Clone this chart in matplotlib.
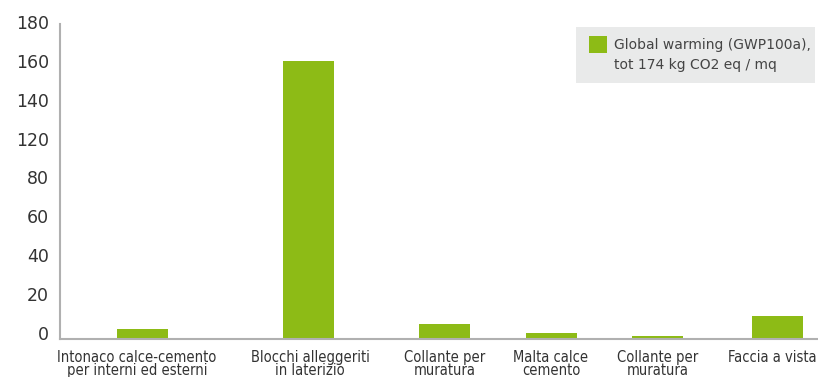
import matplotlib
matplotlib.use("Agg")
import matplotlib.pyplot as plt
import matplotlib.transforms as mtransforms
from matplotlib.patches import Rectangle

# ---- data ----
categories = [
    "Intonaco calce-cemento\nper interni ed esterni",
    "Blocchi alleggeriti\nin laterizio",
    "Collante per\nmuratura",
    "Malta calce\ncemento",
    "Collante per\nmuratura",
    "Faccia a vista",
]
values = [5.5, 160.5, 8.4, 3.2, 1.5, 13.0]
ytick_labels = ["0", "20", "40", "60", "80", "120", "140", "160", "180"]
legend_label = "Global warming (GWP100a),\ntot 174 kg CO2 eq / mq"

# ---- layout (not data) ----
xpos = [82.5, 248.3, 384.3, 491.3, 597.5, 717.5]
label_pos = [77, 250, 385, 491, 598, 712]
bar_width = 51
ytick_pos = [i * 22.5 for i in range(len(ytick_labels))]

W, H = 818, 377
fig = plt.figure(figsize=(W / 100, H / 100), dpi=100)
ax = fig.add_axes([60 / W, 1 - 338.5 / H, 758 / W, (338.5 - 24) / H])

green = "#8dbb16"
ax.bar(xpos, values, width=bar_width, color=green, zorder=2)

ax.set_xlim(0, 758)
ax.set_ylim(0, 182)

for s in ["top", "right"]:
    ax.spines[s].set_visible(False)
for s in ["left", "bottom"]:
    ax.spines[s].set_color("#b0b0b0")
    ax.spines[s].set_linewidth(1.5)

ax.set_yticks(ytick_pos)
ax.set_yticklabels(ytick_labels, fontsize=12.5, color="#333333",
                   family="DejaVu Sans")
ax.tick_params(axis="y", length=0, pad=8)
offset = mtransforms.ScaledTranslation(0, 4 / 72, fig.dpi_scale_trans)
for lbl in ax.get_yticklabels():
    lbl.set_transform(lbl.get_transform() + offset)

ax.set_xticks(label_pos)
ax.set_xticklabels(categories, fontsize=10.5, color="#333333",
                   family="DejaVu Sans", fontstretch="condensed",
                   linespacing=0.85)
ax.tick_params(axis="x", length=0, pad=8)

# legend box drawn manually
fig.patches.append(Rectangle((576 / W, 1 - 83 / H), (815 - 576) / W, (83 - 27) / H,
                             transform=fig.transFigure, facecolor="#e9eaea",
                             edgecolor="none", zorder=1))
fig.patches.append(Rectangle((589 / W, 1 - 53 / H), 18 / W, 17 / H,
                             transform=fig.transFigure, facecolor=green,
                             edgecolor="none", zorder=2))
fig.text(614 / W, 1 - 55 / H, legend_label, fontsize=10, color="#444444",
         va="center", ha="left", linespacing=1.5, zorder=3)

fig.savefig("out.png", dpi=100)
